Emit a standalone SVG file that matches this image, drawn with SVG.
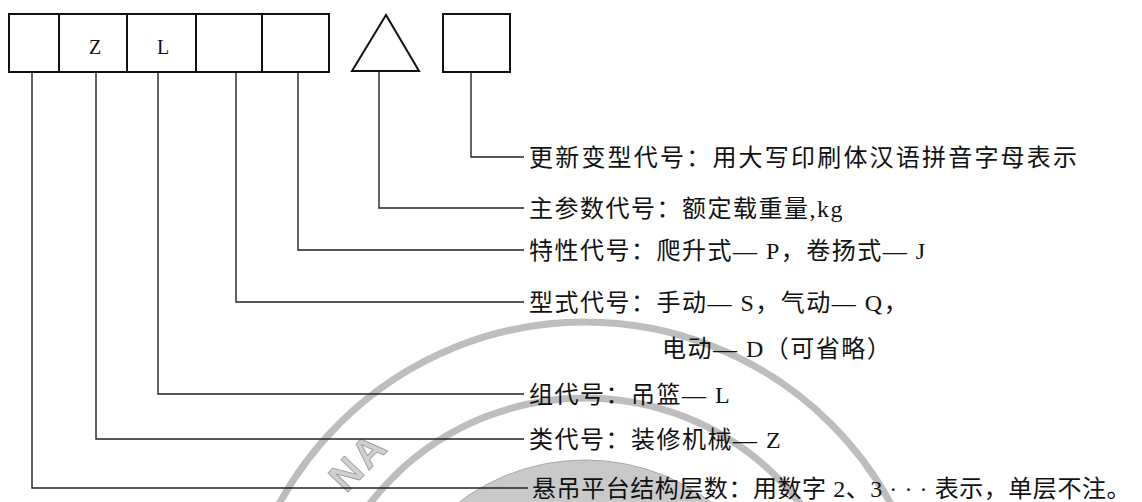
<svg xmlns="http://www.w3.org/2000/svg" width="1142" height="502" viewBox="0 0 1142 502">
<style>
.box{fill:#fff;stroke:#111;stroke-width:2}
.ln{fill:none;stroke:#222;stroke-width:1.4}
.t{font-family:"Liberation Serif","Noto Sans CJK SC",serif;font-size:24px;fill:#111;letter-spacing:1.5px}
.c{font-family:"Liberation Serif","Noto Sans CJK SC",serif;font-size:20px;fill:#111;text-anchor:middle}
.wm{fill:none;stroke:#bdbdbd;stroke-width:7}
</style>
<rect width="1142" height="502" fill="#fff"/>
<g id="watermark">
<circle class="wm" cx="585" cy="670" r="348"/>
<circle class="wm" cx="585" cy="670" r="272"/>
<circle cx="585" cy="670" r="210" fill="#c9c9c9" stroke="#aaa" stroke-width="1"/>
<text x="0" y="0" transform="translate(346,494) rotate(-46)" font-family="Liberation Sans,sans-serif" font-size="40" font-weight="bold" fill="#d0d0d0" stroke="#999" stroke-width="0.8" letter-spacing="3">NA</text>
</g>
<g id="connectors">
<polyline class="ln" points="32,72 32,488 528,488"/>
<polyline class="ln" points="96,72 96,439 524,439"/>
<polyline class="ln" points="158,72 158,394 524,394"/>
<polyline class="ln" points="236,72 236,302 524,302"/>
<polyline class="ln" points="298,72 298,250 524,250"/>
<polyline class="ln" points="379,71 379,208 524,208"/>
<polyline class="ln" points="471,72 471,157 524,157"/>
</g>
<g id="cell1"><rect class="box" x="9" y="14" width="50" height="58"/></g>
<g id="cell2"><rect class="box" x="59" y="14" width="68" height="58"/><text class="c" x="95" y="54">Z</text></g>
<g id="cell3"><rect class="box" x="127" y="14" width="69" height="58"/><text class="c" x="163" y="54">L</text></g>
<g id="cell4"><rect class="box" x="196" y="14" width="66" height="58"/></g>
<g id="cell5"><rect class="box" x="262" y="14" width="67" height="58"/></g>
<g id="triangle"><polygon class="box" points="386,15 352,71 419,71"/></g>
<g id="square"><rect class="box" x="443" y="14" width="67" height="58"/></g>
<g id="label-update"><text class="t" x="529" y="166" style="letter-spacing:2.2px">更新变型代号：用大写印刷体汉语拼音字母表示</text></g>
<g id="label-main"><text class="t" x="529" y="217">主参数代号：额定载重量,kg</text></g>
<g id="label-feature"><text class="t" x="529" y="259">特性代号：爬升式— P，卷扬式— J</text></g>
<g id="label-type"><text class="t" x="529" y="311">型式代号：手动— S，气动— Q，</text><text class="t" x="662" y="357">电动— D（可省略）</text></g>
<g id="label-group"><text class="t" x="529" y="403">组代号：吊篮— L</text></g>
<g id="label-class"><text class="t" x="529" y="448">类代号：装修机械— Z</text></g>
<g id="label-layers"><text class="t" x="532" y="497" textLength="600" lengthAdjust="spacing">悬吊平台结构层数：用数字 2、3 · · · 表示，单层不注。</text></g>
</svg>
